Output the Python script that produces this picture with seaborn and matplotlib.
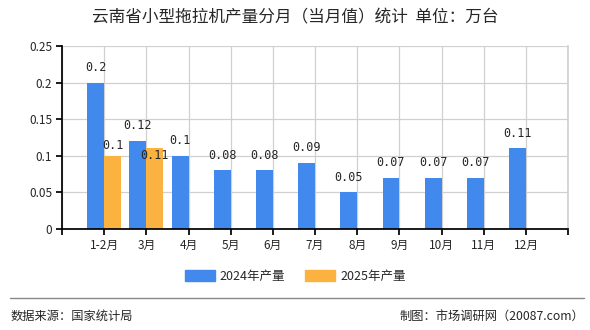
import matplotlib
matplotlib.use("Agg")
import matplotlib.pyplot as plt
import seaborn as sns
import pandas as pd

months = ["1-2月", "3月", "4月", "5月", "6月", "7月", "8月", "9月", "10月", "11月", "12月"]
prod_2024 = [0.2, 0.12, 0.1, 0.08, 0.08, 0.09, 0.05, 0.07, 0.07, 0.07, 0.11]
prod_2025 = [0.1, 0.11, None, None, None, None, None, None, None, None, None]
series_names = ["2024年产量", "2025年产量"]
yticks = [0, 0.05, 0.1, 0.15, 0.2, 0.25]
ytick_labels = ["0", "0.05", "0.1", "0.15", "0.2", "0.25"]

sns.set_theme(style="white")
plt.rcParams["font.family"] = ["Noto Sans CJK SC", "DejaVu Sans"]

df = pd.DataFrame({
    "月份": months * 2,
    "产量": prod_2024 + prod_2025,
    "系列": [series_names[0]] * len(months) + [series_names[1]] * len(months),
})

colors = {series_names[0]: "#4189EC", series_names[1]: "#FCB241"}

fig = plt.figure(figsize=(5.9, 3.3), dpi=100)
ax = fig.add_axes([0.105, 0.306, 0.858, 0.555])

sns.barplot(data=df, x="月份", y="产量", hue="系列", palette=colors,
            width=0.8, ax=ax, legend=False, saturation=1, linewidth=0)

ax.set_xlim(-1, len(months))
ax.set_ylim(0, 0.25)
ax.set_yticks(yticks)
ax.set_yticklabels(ytick_labels, fontsize=8.5)
ax.set_xticks(range(-1, len(months) + 1))
ax.set_xticklabels([""] + months + [""], fontsize=8.5)
ax.set_xlabel("")
ax.set_ylabel("")

ax.grid(True, color="#d0d0d0", linewidth=0.9)
ax.set_axisbelow(True)
ax.spines["top"].set_visible(False)
ax.spines["right"].set_color("#d0d0d0")
ax.spines["left"].set_color("black")
ax.spines["bottom"].set_color("black")
ax.tick_params(axis="both", which="both", length=4, color="black", direction="out",
               bottom=True, left=True, pad=3)

# value labels
for i, v in enumerate(prod_2024):
    ax.text(i - 0.2, v + 0.012, f"{v:g}", ha="center", va="bottom", fontsize=8.5,
            family="DejaVu Sans Mono")
offsets_2025 = [0.005, -0.018]
for i, v in enumerate(prod_2025):
    if v is None:
        continue
    ax.text(i + 0.2, v + offsets_2025[i], f"{v:g}", ha="center", va="bottom", fontsize=8.5,
            family="DejaVu Sans Mono")

fig.text(0.5, 0.945, "云南省小型拖拉机产量分月（当月值）统计  单位：万台",
         ha="center", va="center", fontsize=12)

# legend
handles = [plt.Rectangle((0, 0), 1, 1, color=colors[n]) for n in series_names]
fig.legend(handles, series_names, loc="center", bbox_to_anchor=(0.5, 0.163), ncol=2,
           frameon=False, fontsize=9, handlelength=2.4, handleheight=0.9,
           columnspacing=1.6, handletextpad=0.4)

# footer
fig.add_artist(plt.Line2D([0.017, 0.99], [0.097, 0.097], color="#888888", linewidth=1))
fig.text(0.017, 0.042, "数据来源：国家统计局", ha="left", va="center", fontsize=8.8)
fig.text(0.99, 0.042, "制图：市场调研网（20087.com）", ha="right", va="center", fontsize=8.8)

fig.savefig("out.png", dpi=100)
